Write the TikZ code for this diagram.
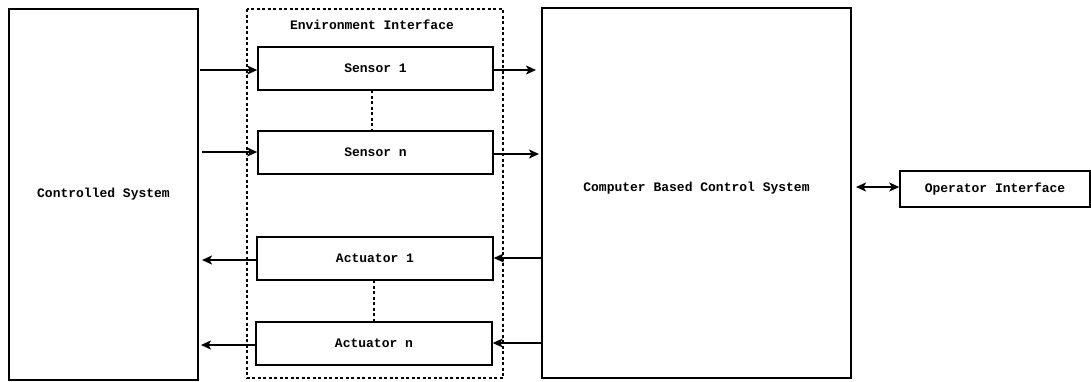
\documentclass[tikz,border=0pt]{standalone}
\usepackage{fontspec}
\setmonofont{Liberation Mono}
\usetikzlibrary{arrows.meta}
\begin{document}
\begin{tikzpicture}[x=1pt,y=-1pt,
  box/.style={draw,line width=1.5pt,fill=white},
  lbl/.style={font=\ttfamily\bfseries\fontsize{13}{15}\selectfont},
  arr/.style={line width=1.5pt,-{Stealth[length=10pt,width=9pt,inset=2.5pt]}},
  darr/.style={line width=1.5pt,{Stealth[length=10pt,width=9pt,inset=2.5pt]}-{Stealth[length=10pt,width=9pt,inset=2.5pt]}},
  dot/.style={line width=1.5pt,dash pattern=on 3pt off 2.5pt}]
\useasboundingbox (0,0) rectangle (1091,381);
\draw[dot] (247,9) rectangle (503,378);
\node[lbl] (envl) at (372,25) {Environment Interface};
\draw[box] (9,9) rectangle (198,380);
\node[lbl] (cs) at (103.5,194) {Controlled System};
\draw[box] (542,8) rectangle (851,378);
\node[lbl] (cb) at (696.5,188) {Computer Based Control System};
\node[box,lbl,minimum width=190pt,minimum height=36pt,inner sep=0pt] (op) at (995,189) {Operator Interface};
\node[box,lbl,minimum width=235pt,minimum height=43pt,inner sep=0pt] (s1) at (375.5,68.5) {Sensor 1};
\node[box,lbl,minimum width=235pt,minimum height=43pt,inner sep=0pt] (sn) at (375.5,152.5) {Sensor n};
\node[box,lbl,minimum width=236pt,minimum height=43pt,inner sep=0pt] (a1) at (375,258.5) {Actuator 1};
\node[box,lbl,minimum width=236pt,minimum height=43pt,inner sep=0pt] (an) at (374,343.5) {Actuator n};
\draw[dot] (372,90) -- (372,131);
\draw[dot] (374,280) -- (374,322);
\coordinate (l1) at (200,70); \coordinate (l2) at (202,152);
\coordinate (l3) at (202,260); \coordinate (l4) at (201,345);
\coordinate (r1) at (536,70); \coordinate (r2) at (539,154);
\coordinate (r3) at (541,258); \coordinate (r4) at (541,343);
\draw[arr] (l1) -- (s1.west |- l1);
\draw[arr] (l2) -- (sn.west |- l2);
\draw[arr] (s1.east |- r1) -- (r1);
\draw[arr] (sn.east |- r2) -- (r2);
\draw[arr] (r3) -- (a1.east |- r3);
\draw[arr] (r4) -- (an.east |- r4);
\draw[arr] (a1.west |- l3) -- (l3);
\draw[arr] (an.west |- l4) -- (l4);
\coordinate (cbE) at (856,187);
\draw[darr] (cbE) -- (op.west |- cbE);
\end{tikzpicture}
\end{document}
